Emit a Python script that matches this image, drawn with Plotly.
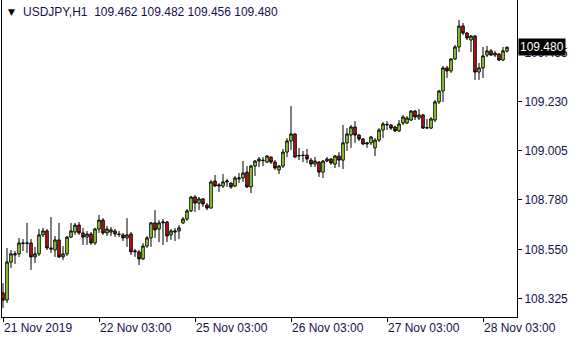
import plotly.graph_objects as go

symbol_title = "USDJPY,H1"
last_ohlc = ["109.462", "109.482", "109.456", "109.480"]

open_ = [108.353,108.320,108.495,108.527,108.532,108.582,108.580,108.582,108.518,108.532,
         108.619,108.637,108.559,108.550,108.596,108.518,108.532,108.609,108.632,108.664,
         108.628,108.609,108.623,108.582,108.646,108.687,108.628,108.632,108.637,108.623,
         108.619,108.605,108.623,108.541,108.541,108.509,108.568,108.605,108.674,108.646,
         108.674,108.678,108.619,108.632,108.637,108.674,108.692,108.729,108.793,108.765,
         108.784,108.756,108.742,108.866,108.843,108.843,108.862,108.857,108.843,108.876,
         108.880,108.907,108.839,108.935,108.958,108.962,108.953,108.976,108.953,108.917,
         108.935,108.999,109.050,109.082,108.981,108.985,108.985,108.962,108.944,108.953,
         108.907,108.958,108.967,108.944,108.981,108.962,109.041,109.077,109.114,109.077,
         109.059,109.036,109.041,109.018,109.054,109.100,109.123,109.123,109.114,109.096,
         109.132,109.132,109.146,109.187,109.155,109.169,109.109,109.109,109.146,109.229,
         109.279,109.385,109.371,109.426,109.481,109.577,109.545,109.513,109.531,109.366,
         109.385,109.444,109.463,109.444,109.449,109.421,109.462]
high = [108.398,108.559,108.550,108.545,108.605,108.600,108.674,108.600,108.564,108.646,
        108.651,108.646,108.701,108.614,108.674,108.568,108.614,108.674,108.674,108.678,
        108.651,108.637,108.632,108.651,108.710,108.696,108.660,108.655,108.646,108.637,
        108.628,108.696,108.632,108.555,108.550,108.582,108.614,108.678,108.733,108.687,
        108.692,108.683,108.646,108.651,108.664,108.701,108.738,108.797,108.802,108.793,
        108.788,108.765,108.871,108.894,108.857,108.898,108.876,108.859,108.889,108.903,
        108.958,108.935,108.940,108.962,108.976,108.976,108.985,108.978,108.962,108.940,
        109.013,109.063,109.210,109.086,109.018,109.004,109.013,108.972,108.976,108.958,
        108.962,108.976,108.972,108.985,108.999,109.123,109.109,109.123,109.141,109.082,
        109.063,109.045,109.073,109.063,109.109,109.137,109.141,109.128,109.119,109.146,
        109.169,109.164,109.192,109.192,109.196,109.174,109.151,109.160,109.238,109.284,
        109.394,109.394,109.430,109.490,109.605,109.591,109.550,109.536,109.536,109.408,
        109.481,109.486,109.472,109.463,109.453,109.481,109.482]
low = [108.284,108.307,108.467,108.486,108.518,108.545,108.536,108.458,108.490,108.522,
       108.609,108.550,108.536,108.518,108.513,108.504,108.522,108.605,108.619,108.619,
       108.573,108.573,108.573,108.573,108.628,108.619,108.614,108.614,108.609,108.609,
       108.591,108.564,108.527,108.518,108.481,108.504,108.559,108.564,108.605,108.586,
       108.573,108.586,108.596,108.591,108.600,108.669,108.683,108.724,108.724,108.733,
       108.747,108.733,108.740,108.841,108.816,108.834,108.839,108.830,108.839,108.857,
       108.862,108.834,108.811,108.889,108.930,108.935,108.949,108.944,108.917,108.898,
       108.926,108.976,109.008,108.972,108.962,108.953,108.949,108.930,108.930,108.885,
       108.880,108.953,108.940,108.926,108.930,108.921,109.004,109.018,109.041,109.050,
       109.031,109.018,109.031,108.981,109.045,109.063,109.100,109.100,109.091,109.091,
       109.123,109.128,109.141,109.146,109.146,109.105,109.105,109.105,109.137,109.219,
       109.229,109.339,109.362,109.421,109.458,109.536,109.513,109.458,109.330,109.330,
       109.339,109.435,109.440,109.435,109.417,109.417,109.456]
close = [108.320,108.495,108.532,108.532,108.582,108.580,108.582,108.518,108.532,108.619,
         108.637,108.559,108.555,108.596,108.518,108.532,108.609,108.637,108.664,108.628,
         108.609,108.623,108.582,108.646,108.687,108.628,108.646,108.642,108.623,108.621,
         108.605,108.619,108.541,108.545,108.509,108.568,108.605,108.674,108.642,108.674,
         108.678,108.614,108.637,108.637,108.651,108.692,108.729,108.793,108.765,108.784,
         108.761,108.742,108.862,108.843,108.848,108.862,108.866,108.839,108.880,108.880,
         108.903,108.839,108.935,108.958,108.967,108.960,108.981,108.953,108.926,108.935,
         108.999,109.050,109.082,108.976,108.983,108.983,108.967,108.944,108.958,108.907,
         108.958,108.967,108.949,108.981,108.962,109.041,109.082,109.114,109.077,109.059,
         109.036,109.041,109.068,109.054,109.100,109.128,109.126,109.109,109.096,109.128,
         109.160,109.155,109.187,109.160,109.169,109.109,109.111,109.151,109.229,109.279,
         109.385,109.371,109.426,109.481,109.577,109.545,109.522,109.531,109.366,109.385,
         109.440,109.463,109.444,109.453,109.421,109.463,109.480]

bars = list(range(len(close)))

x_tick_bars = [0, 24, 48, 72, 96, 120]
x_tick_text = ["21 Nov 2019", "22 Nov 03:00", "25 Nov 03:00", "26 Nov 03:00",
               "27 Nov 03:00", "28 Nov 03:00"]
y_tick_vals = [108.325, 108.550, 108.780, 109.005, 109.230, 109.455]

FONT = "Liberation Sans, Arial, DejaVu Sans, sans-serif"
TXT = "#14104A"

fig = go.Figure(go.Candlestick(
    x=bars, open=open_, high=high, low=low, close=close,
    increasing=dict(fillcolor="#A6F53C", line=dict(color="black", width=1)),
    decreasing=dict(fillcolor="#D81414", line=dict(color="black", width=1)),
    whiskerwidth=0, hoverinfo="skip",
))

fig.update_layout(
    width=580, height=340,
    margin=dict(l=2, r=63, t=0, b=23),
    paper_bgcolor="white", plot_bgcolor="white",
    showlegend=False, boxgap=0.1,
    font=dict(family=FONT, size=12, color=TXT),
    xaxis=dict(
        range=[-0.25, 128.5], rangeslider=dict(visible=False),
        showgrid=False, zeroline=False,
        showline=True, linecolor="black", linewidth=1, mirror=True,
        tickmode="array", tickvals=x_tick_bars, ticktext=x_tick_text,
        ticks="outside", ticklen=4, tickcolor="black", tickwidth=1,
        ticklabelposition="outside right",
        tickfont=dict(family=FONT, size=12, color=TXT),
    ),
    yaxis=dict(
        side="right", range=[108.2424, 109.6965],
        showgrid=False, zeroline=False,
        showline=True, linecolor="black", linewidth=1, mirror=True,
        tickmode="array", tickvals=y_tick_vals,
        ticktext=[f"{v:.3f}" for v in y_tick_vals],
        ticks="outside", ticklen=4, tickcolor="black", tickwidth=1,
        tickfont=dict(family=FONT, size=12, color=TXT),
    ),
)

fig.add_annotation(xref="paper", yref="paper", x=0, y=1, xanchor="left", yanchor="top",
                   xshift=4, yshift=-5, text="▼", showarrow=False,
                   font=dict(family="DejaVu Sans", size=9, color="black"))
fig.add_annotation(xref="paper", yref="paper", x=0, y=1, xanchor="left", yanchor="top",
                   xshift=19, yshift=-3,
                   text=symbol_title + "\u00a0\u00a0" + " ".join(last_ohlc),
                   showarrow=False, font=dict(family=FONT, size=12, color=TXT))
fig.add_annotation(xref="paper", yref="y", x=1, y=float(last_ohlc[3]),
                   xanchor="left", yanchor="middle", xshift=1,
                   text=last_ohlc[3], showarrow=False, bgcolor="black",
                   borderpad=1, font=dict(family=FONT, size=12, color="white"))

fig.write_html("out.html")
